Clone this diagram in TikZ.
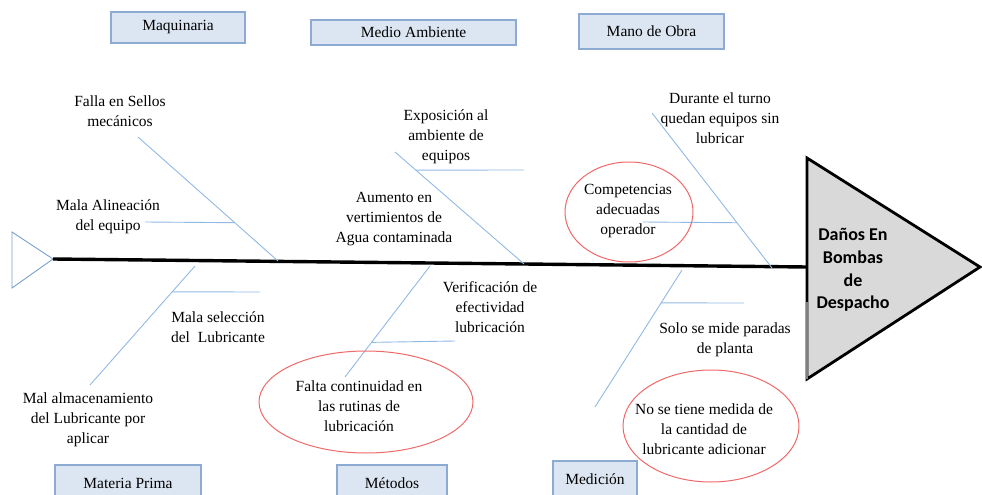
\documentclass[tikz,border=0pt]{standalone}
\usepackage{fontspec}
\setmainfont{Liberation Serif}
\newfontfamily\headfont{Carlito}
\usetikzlibrary{calc,shapes.geometric}

\definecolor{boxfill}{RGB}{220,230,242}
\definecolor{boxline}{RGB}{140,170,210}
\definecolor{bonecol}{RGB}{145,185,228}
\definecolor{tailcol}{RGB}{120,160,205}
\definecolor{ringred}{RGB}{240,105,105}
\definecolor{headfill}{RGB}{217,217,217}
\definecolor{edgegray}{RGB}{128,128,128}

\begin{document}
\begin{tikzpicture}[x=1pt,y=-1pt,
  catbox/.style={draw=boxline, fill=boxfill, line width=1.1pt, inner sep=0pt,
                 font=\fontsize{15.5}{18}\selectfont},
  cause/.style={align=center, inner sep=0pt, font=\fontsize{15.5}{20}\selectfont},
  bone/.style={draw=bonecol, line width=0.9pt},
  ring/.style={draw=ringred, line width=1pt, ellipse, inner sep=0pt},
  spine/.style={draw=black, line width=3.4pt},
  headtri/.style={draw=black, fill=headfill, line width=2.8pt, line join=miter}]

\useasboundingbox (0,0) rectangle (982,495);
\clip (0,0) rectangle (982,495);

% ---- category boxes ----
\node[catbox, minimum width=134pt, minimum height=31pt] (maq) at (178,27.5) {Maquinaria};
\node[catbox, minimum width=205pt, minimum height=25pt] (amb) at (413.5,32.5) {Medio Ambiente};
\node[catbox, minimum width=145pt, minimum height=35pt] (obra) at (651.5,31.5) {Mano de Obra};
\node[catbox, minimum width=146pt, minimum height=36pt] (mat) at (128,483) {Materia Prima};
\node[catbox, minimum width=110pt, minimum height=36pt] (met) at (392,483) {Métodos};
\node[catbox, minimum width=84pt, minimum height=36pt] (med) at (595,479) {Medición};

% ---- tail of the fish ----
\coordinate (tA) at (12,232);
\coordinate (tail) at (53,259);
\coordinate (tB) at (12,288);
\draw[draw=tailcol, line width=0.9pt] (tA) -- (tail) -- (tB) -- cycle;

% ---- head of the fish ----
\coordinate (hTop) at (807,158);
\coordinate (hTip) at (980,267);
\coordinate (hBot) at (807,379);
\coordinate (hMid) at (807,267);
\coordinate (hLow) at (807,302);
\draw[headtri] (hTop) -- (hTip) -- (hBot) -- cycle;
\draw[draw=edgegray, line width=2.8pt] (hLow) -- (hBot);
\node[align=center, inner sep=0pt, font=\headfont\bfseries\fontsize{18}{22.6}\selectfont] (effect) at (853,270)
  {Daños En\\Bombas\\de\\Despacho};

% ---- spine ----
\draw[spine] (tail) -- (hMid);

% ---- main bones ----
\coordinate (b1) at (138,137);  \coordinate (s1) at (278,261);
\coordinate (b2) at (395,152);  \coordinate (s2) at (524,264);
\coordinate (b3) at (652,113);  \coordinate (s3) at (772,268);
\coordinate (s4) at (195,266);  \coordinate (b4) at (90,385);
\coordinate (s5) at (430,266);  \coordinate (b5) at (345,377);
\coordinate (s6) at (682,270);  \coordinate (b6) at (595,407);
\draw[bone] (b1) -- (s1);
\draw[bone] (b2) -- (s2);
\draw[bone] (b3) -- (s3);
\draw[bone] (s4) -- (b4);
\draw[bone] (s5) -- (b5);
\draw[bone] (s6) -- (b6);

% ---- sub-bones ----
\coordinate (e1) at (145,222);
\coordinate (e2) at (524,170);
\coordinate (e3) at (643,222);
\coordinate (e4) at (260,292);
\coordinate (e5) at (455,341);
\coordinate (e6) at (744,303);
\draw[bone] (e1) -- ($(b1)!0.691!(s1)$);
\draw[bone] ($(b2)!0.162!(s2)$) -- (e2);
\draw[bone] (e3) -- ($(b3)!0.708!(s3)$);
\draw[bone] ($(s4)!0.217!(b4)$) -- (e4);
\draw[bone] ($(s5)!0.688!(b5)$) -- (e5);
\draw[bone] ($(s6)!0.240!(b6)$) -- (e6);

% ---- highlighted causes ----
\node[ring, minimum width=128pt, minimum height=100pt] (r1) at (629,212) {};
\node[ring, minimum width=214pt, minimum height=102pt] (r2) at (366,402) {};
\node[ring, minimum width=176pt, minimum height=112pt] (r3) at (711,426) {};

% ---- causes ----
\node[cause] (c1) at (120,111) {Falla en Sellos\\mecánicos};
\node[cause] (c2) at (108,217) {Mala Alineación\\del equipo};
\node[cause] (c3) at (446,137) {Exposición al\\ambiente de\\equipos};
\node[cause] (c4) at (394,219) {Aumento en\\vertimientos de\\Agua contaminada};
\node[cause] (c5) at (720,118) {Durante el turno\\quedan equipos sin\\lubricar};
\node[cause] (c6) at (628,211) {Competencias\\adecuadas\\operador};
\node[cause] (c7) at (218,327) {Mala selección\\del\ \ Lubricante};
\node[cause] (c8) at (88,420) {Mal almacenamiento\\del Lubricante por\\aplicar};
\node[cause] (c9) at (490,307) {Verificación de\\efectividad\\lubricación};
\node[cause] (c10) at (359,406) {Falta continuidad en\\las rutinas de\\lubricación};
\node[cause] (c11) at (725,340) {Solo se mide paradas\\de planta};
\node[cause] (c12) at (704,429) {No se tiene medida de\\la cantidad de\\lubricante adicionar};

\end{tikzpicture}
\end{document}
